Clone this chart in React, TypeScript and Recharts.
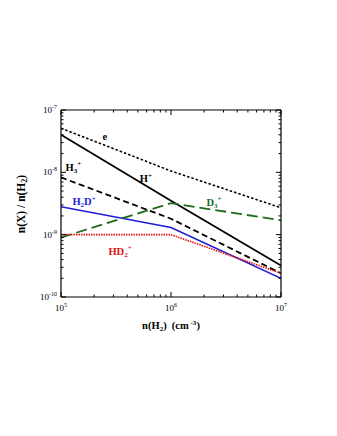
import { LineChart, Line, XAxis, YAxis, ReferenceDot, Label } from "recharts";

// density n(H2) in cm^-3
const density = [1e5, 1e6, 1e7];

// fractional abundances n(X)/n(H2)
const electrons = [5.1e-8, 1.05e-8, 2.7e-9];
const hPlus = [4.0e-8, 3.5e-9, 3.2e-10];
const h3Plus = [8.3e-9, 1.8e-9, 2.4e-10];
const h2dPlus = [2.8e-9, 1.3e-9, 2.0e-10];
const d3Plus = [9.0e-10, 3.2e-9, 1.7e-9];
const hd2Plus = [1.0e-9, 1.0e-9, 2.4e-10];

const xTicks = [1e5, 2e5, 3e5, 4e5, 5e5, 6e5, 7e5, 8e5, 9e5, 1e6, 2e6, 3e6, 4e6, 5e6, 6e6, 7e6, 8e6, 9e6, 1e7];
const yTicks = [
  1e-10, 2e-10, 3e-10, 4e-10, 5e-10, 6e-10, 7e-10, 8e-10, 9e-10,
  1e-9, 2e-9, 3e-9, 4e-9, 5e-9, 6e-9, 7e-9, 8e-9, 9e-9,
  1e-8, 2e-8, 3e-8, 4e-8, 5e-8, 6e-8, 7e-8, 8e-8, 9e-8, 1e-7,
];

// where the species names sit, in data coordinates
const labelSpots = [
  { id: "e", x: 2.5e5, y: 3.3e-8 },
  { id: "hp", x: 5.2e5, y: 7.1e-9 },
  { id: "h3p", x: 1.1e5, y: 1.04e-8 },
  { id: "h2dp", x: 1.27e5, y: 3.0e-9 },
  { id: "d3p", x: 2.1e6, y: 2.9e-9 },
  { id: "hd2p", x: 2.7e5, y: 4.7e-10 },
];

const data = density.map((n, i) => ({
  n,
  e: electrons[i],
  hp: hPlus[i],
  h3p: h3Plus[i],
  h2dp: h2dPlus[i],
  d3p: d3Plus[i],
  hd2p: hd2Plus[i],
}));

const FONT = "'Liberation Serif', 'Times New Roman', serif";
const BLUE = "#1c1cd8";
const GREEN = "#1d6b1d";
const RED = "#e01010";

const isMajor = (v: number) => {
  const l = Math.log10(v);
  return Math.abs(l - Math.round(l)) < 1e-6;
};

function Pow({ x, y, exp, anchor }: { x: number; y: number; exp: number; anchor: string }) {
  return (
    <text x={x} y={y} textAnchor={anchor} fontFamily={FONT} fontSize={9} fill="#000">
      10
      <tspan dy={-4} fontSize={6}>
        {exp}
      </tspan>
    </text>
  );
}

function makeTick(side: "left" | "right" | "bottom" | "top") {
  return (props: any) => {
    const { x, y, payload } = props;
    const v = payload.value;
    const major = isMajor(v);
    const len = major ? 5 : 2.5;
    const exp = Math.round(Math.log10(v));
    if (side === "left") {
      return (
        <g>
          <line x1={x} y1={y} x2={x + len} y2={y} stroke="#000" strokeWidth={1} />
          {major && <Pow x={x - 4} y={y + 3} exp={exp} anchor="end" />}
        </g>
      );
    }
    if (side === "right") {
      return <line x1={x} y1={y} x2={x - len} y2={y} stroke="#000" strokeWidth={1} />;
    }
    if (side === "bottom") {
      return (
        <g>
          <line x1={x} y1={y} x2={x} y2={y - len} stroke="#000" strokeWidth={1} />
          {major && <Pow x={x} y={y + 14} exp={exp} anchor="middle" />}
        </g>
      );
    }
    return <line x1={x} y1={y} x2={x} y2={y + len} stroke="#000" strokeWidth={1} />;
  };
}

function SpeciesName({ id, cx, cy }: { id: string; cx: number; cy: number }) {
  const common = { x: cx, y: cy, fontFamily: FONT, fontSize: 10.5, fontWeight: "bold" as const };
  const sub = (t: string) => (
    <tspan dy={2} fontSize={7}>
      {t}
    </tspan>
  );
  const sup = (t: string, dy: number) => (
    <tspan dy={dy} fontSize={7}>
      {t}
    </tspan>
  );
  switch (id) {
    case "e":
      return <text {...common} fill="#000" textAnchor="middle">e</text>;
    case "hp":
      return (
        <text {...common} fill="#000">
          H{sup("+", -4)}
        </text>
      );
    case "h3p":
      return (
        <text {...common} fill="#000">
          H{sub("3")}
          {sup("+", -7)}
        </text>
      );
    case "h2dp":
      return (
        <text {...common} fill={BLUE}>
          H{sub("2")}
          <tspan dy={-2}>D</tspan>
          {sup("+", -4)}
        </text>
      );
    case "d3p":
      return (
        <text {...common} fill={GREEN}>
          D{sub("3")}
          {sup("+", -7)}
        </text>
      );
    default:
      return (
        <text {...common} fill={RED}>
          HD{sub("2")}
          {sup("+", -7)}
        </text>
      );
  }
}

export default function App() {
  return (
    <div style={{ position: "absolute", left: 0, top: 0, width: 337, height: 436, background: "#fff" }}>
      <LineChart width={337} height={436} data={data} margin={{ top: 109, right: 55, bottom: 138, left: 60 }}>
        <XAxis
          dataKey="n"
          type="number"
          scale="log"
          domain={[1e5, 1e7]}
          allowDataOverflow
          ticks={xTicks}
          interval={0}
          height={1}
          tickSize={0}
          tickMargin={0}
          tick={makeTick("bottom")}
          axisLine={{ stroke: "#000", strokeWidth: 1.2 }}
        >
          <Label
            content={() => (
              <text
                x={171}
                y={329}
                textAnchor="middle"
                fontFamily={FONT}
                fontSize={10.5}
                fontWeight="bold"
                style={{ whiteSpace: "pre" }}
              >
                n(H
                <tspan dy={2} fontSize={7}>2</tspan>
                <tspan dy={-2}>{")\u00a0\u00a0(cm"}</tspan>
                <tspan dy={-4} fontSize={7}>{"\u00a0-3"}</tspan>
                <tspan dy={4}>)</tspan>
              </text>
            )}
          />
        </XAxis>
        <XAxis
          xAxisId="top"
          orientation="top"
          dataKey="n"
          type="number"
          scale="log"
          domain={[1e5, 1e7]}
          allowDataOverflow
          ticks={xTicks}
          interval={0}
          height={1}
          tickSize={0}
          tickMargin={0}
          tick={makeTick("top")}
          axisLine={{ stroke: "#000", strokeWidth: 1.2 }}
        />
        <YAxis
          type="number"
          scale="log"
          domain={[1e-10, 1e-7]}
          allowDataOverflow
          ticks={yTicks}
          interval={0}
          width={1}
          tickSize={0}
          tickMargin={0}
          tick={makeTick("left")}
          axisLine={{ stroke: "#000", strokeWidth: 1.2 }}
        >
          <Label
            content={() => (
              <text
                x={25}
                y={204}
                transform="rotate(-90 25 204)"
                textAnchor="middle"
                fontFamily={FONT}
                fontSize={11.5}
                fontWeight="bold"
              >
                n(X) / n(H
                <tspan dy={2} fontSize={8}>2</tspan>
                <tspan dy={-2}>)</tspan>
              </text>
            )}
          />
        </YAxis>
        <YAxis
          yAxisId="right"
          orientation="right"
          type="number"
          scale="log"
          domain={[1e-10, 1e-7]}
          allowDataOverflow
          ticks={yTicks}
          interval={0}
          width={1}
          tickSize={0}
          tickMargin={0}
          tick={makeTick("right")}
          axisLine={{ stroke: "#000", strokeWidth: 1.2 }}
        />
        <Line dataKey="e" stroke="#000" strokeWidth={1.6} strokeDasharray="2.5 2" dot={false} isAnimationActive={false} />
        <Line dataKey="hp" stroke="#000" strokeWidth={1.8} dot={false} isAnimationActive={false} />
        <Line dataKey="h3p" stroke="#000" strokeWidth={1.8} strokeDasharray="6 3.5" dot={false} isAnimationActive={false} />
        <Line dataKey="h2dp" stroke={BLUE} strokeWidth={1.5} dot={false} isAnimationActive={false} />
        <Line dataKey="d3p" stroke={GREEN} strokeWidth={1.8} strokeDasharray="11 5" dot={false} isAnimationActive={false} />
        <Line dataKey="hd2p" stroke={RED} strokeWidth={1.6} strokeDasharray="1.5 1" dot={false} isAnimationActive={false} />
        {labelSpots.map((s) => (
          <ReferenceDot
            key={s.id}
            x={s.x}
            y={s.y}
            r={0}
            ifOverflow="visible"
            shape={(p: any) => <SpeciesName id={s.id} cx={p.cx} cy={p.cy} />}
          />
        ))}
      </LineChart>
    </div>
  );
}
